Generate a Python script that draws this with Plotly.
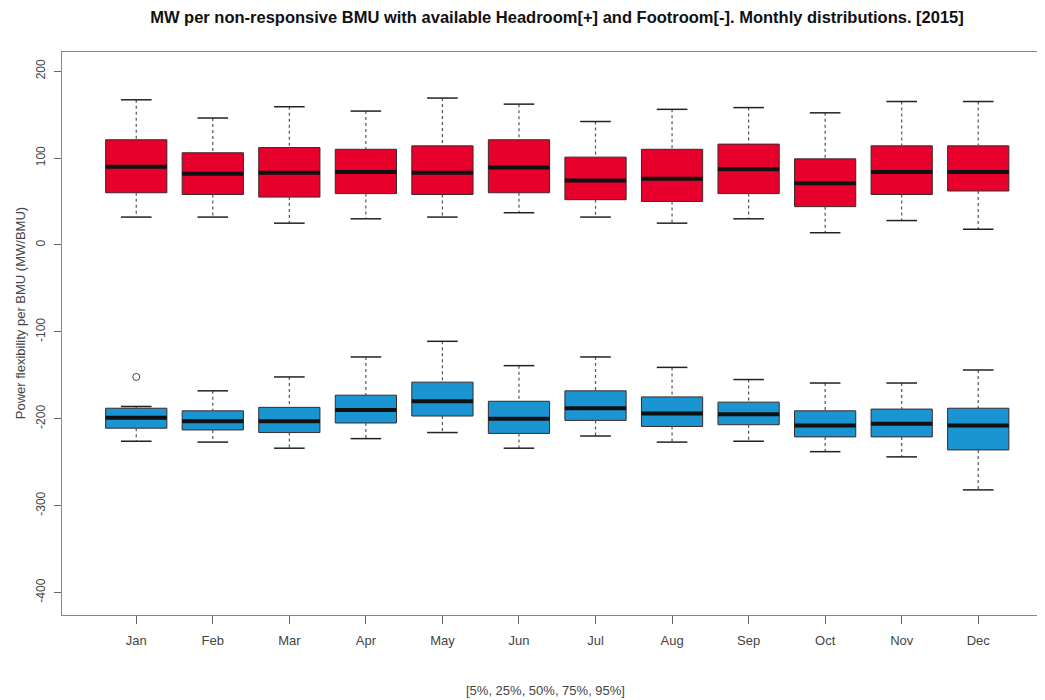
import plotly.graph_objects as go

months = ["Jan", "Feb", "Mar", "Apr", "May", "Jun", "Jul", "Aug", "Sep", "Oct", "Nov", "Dec"]
pos = list(range(1, 13))

y_ticks = [-400, -300, -200, -100, 0, 100, 200]
y_ticklabels = ["-400", "-300", "-200", "-100", "0", "100", "200"]

# Headroom [+] : 5%, 25%, 50%, 75%, 95%
head_p05 = [32, 32, 25, 30, 32, 37, 32, 25, 30, 14, 28, 18]
head_p25 = [60, 58, 55, 59, 58, 60, 52, 50, 59, 44, 58, 62]
head_p50 = [90, 82, 83, 84, 83, 89, 74, 76, 87, 71, 84, 84]
head_p75 = [121, 106, 112, 110, 114, 121, 101, 110, 116, 99, 114, 114]
head_p95 = [167, 146, 159, 154, 169, 162, 142, 156, 158, 152, 165, 165]

# Footroom [-] : 5%, 25%, 50%, 75%, 95%
foot_p05 = [-226, -227, -234, -223, -216, -234, -220, -227, -226, -238, -244, -282]
foot_p25 = [-211, -213, -216, -205, -197, -217, -202, -209, -207, -221, -221, -236]
foot_p50 = [-199, -203, -203, -190, -180, -200, -188, -194, -195, -208, -206, -208]
foot_p75 = [-188, -191, -187, -173, -158, -180, -168, -175, -181, -191, -189, -188]
foot_p95 = [-186, -168, -152, -129, -111, -139, -129, -141, -155, -159, -159, -144]

# outliers
out_x = [1]
out_y = [-152]

red = "#E8002D"
blue = "#1A95D2"
edge = "#3a2a2a"
box_w = 0.8
cap_half = 0.2

fig = go.Figure()


def add_series(p05, p25, p50, p75, p95, fill):
    wx, wy = [], []
    cx, cy = [], []
    mx, my = [], []
    for i, x in enumerate(pos):
        wx += [x, x, None, x, x, None]
        wy += [p95[i], p75[i], None, p25[i], p05[i], None]
        cx += [x - cap_half, x + cap_half, None, x - cap_half, x + cap_half, None]
        cy += [p95[i], p95[i], None, p05[i], p05[i], None]
        mx += [x - box_w / 2, x + box_w / 2, None]
        my += [p50[i], p50[i], None]
    fig.add_trace(go.Scatter(x=wx, y=wy, mode="lines",
                             line=dict(color="#555555", width=1.2, dash="3px,3px"),
                             hoverinfo="skip", showlegend=False))
    fig.add_trace(go.Scatter(x=cx, y=cy, mode="lines",
                             line=dict(color="#222222", width=1.5),
                             hoverinfo="skip", showlegend=False))
    fig.add_trace(go.Box(x=pos, q1=p25, median=p50, q3=p75,
                         lowerfence=p25, upperfence=p75,
                         width=box_w, fillcolor=fill,
                         line=dict(color=edge, width=1),
                         whiskerwidth=0, boxpoints=False, showlegend=False))
    fig.add_trace(go.Scatter(x=mx, y=my, mode="lines",
                             line=dict(color="#111111", width=4),
                             hoverinfo="skip", showlegend=False))


add_series(head_p05, head_p25, head_p50, head_p75, head_p95, red)
add_series(foot_p05, foot_p25, foot_p50, foot_p75, foot_p95, blue)

fig.add_trace(go.Scatter(x=out_x, y=out_y, mode="markers",
                         marker=dict(symbol="circle-open", size=7, color="#444444",
                                     line=dict(width=1)),
                         showlegend=False))

fig.update_layout(
    width=1037, height=692,
    margin=dict(l=54, r=4, t=44, b=85),
    paper_bgcolor="white", plot_bgcolor="white",
    font=dict(family="Liberation Sans, Arial, sans-serif", size=12, color="#444444"),
    title=dict(text="<b>MW per non-responsive BMU with available Headroom[+] and Footroom[-]. Monthly distributions. [2015]</b>",
               x=0.5294, xanchor="center", y=0.986, yanchor="middle",
               font=dict(size=16.5, color="#111111")),
    showlegend=False,
)

fig.update_xaxes(range=[0.03, 12.82], tickvals=pos, ticktext=months,
                 ticks="outside", ticklen=8, tickcolor="#666666",
                 ticklabelstandoff=5, automargin=False,
                 tickfont=dict(size=13),
                 showline=True, linecolor="#888888", linewidth=1, mirror=True,
                 showgrid=False, zeroline=False)
fig.update_yaxes(range=[-426, 222], tickvals=y_ticks, ticktext=y_ticklabels,
                 ticks="outside", ticklen=7, tickcolor="#666666", tickangle=-90,
                 ticklabelstandoff=4, automargin=False,
                 tickfont=dict(size=12),
                 showline=True, linecolor="#888888", linewidth=1, mirror=True,
                 showgrid=False, zeroline=False)

fig.add_annotation(text="Power flexibility per BMU (MW/BMU)", textangle=-90,
                   xref="paper", yref="paper", x=0, y=0.536, xanchor="center",
                   yanchor="middle", xshift=-42, showarrow=False,
                   font=dict(size=13, color="#444444"))
fig.add_annotation(text="[5%, 25%, 50%, 75%, 95%]",
                   xref="paper", yref="paper", x=0.494, y=0, xanchor="center",
                   yanchor="middle", yshift=-75, showarrow=False,
                   font=dict(size=13, color="#444444"))

fig.write_html("out.html")
